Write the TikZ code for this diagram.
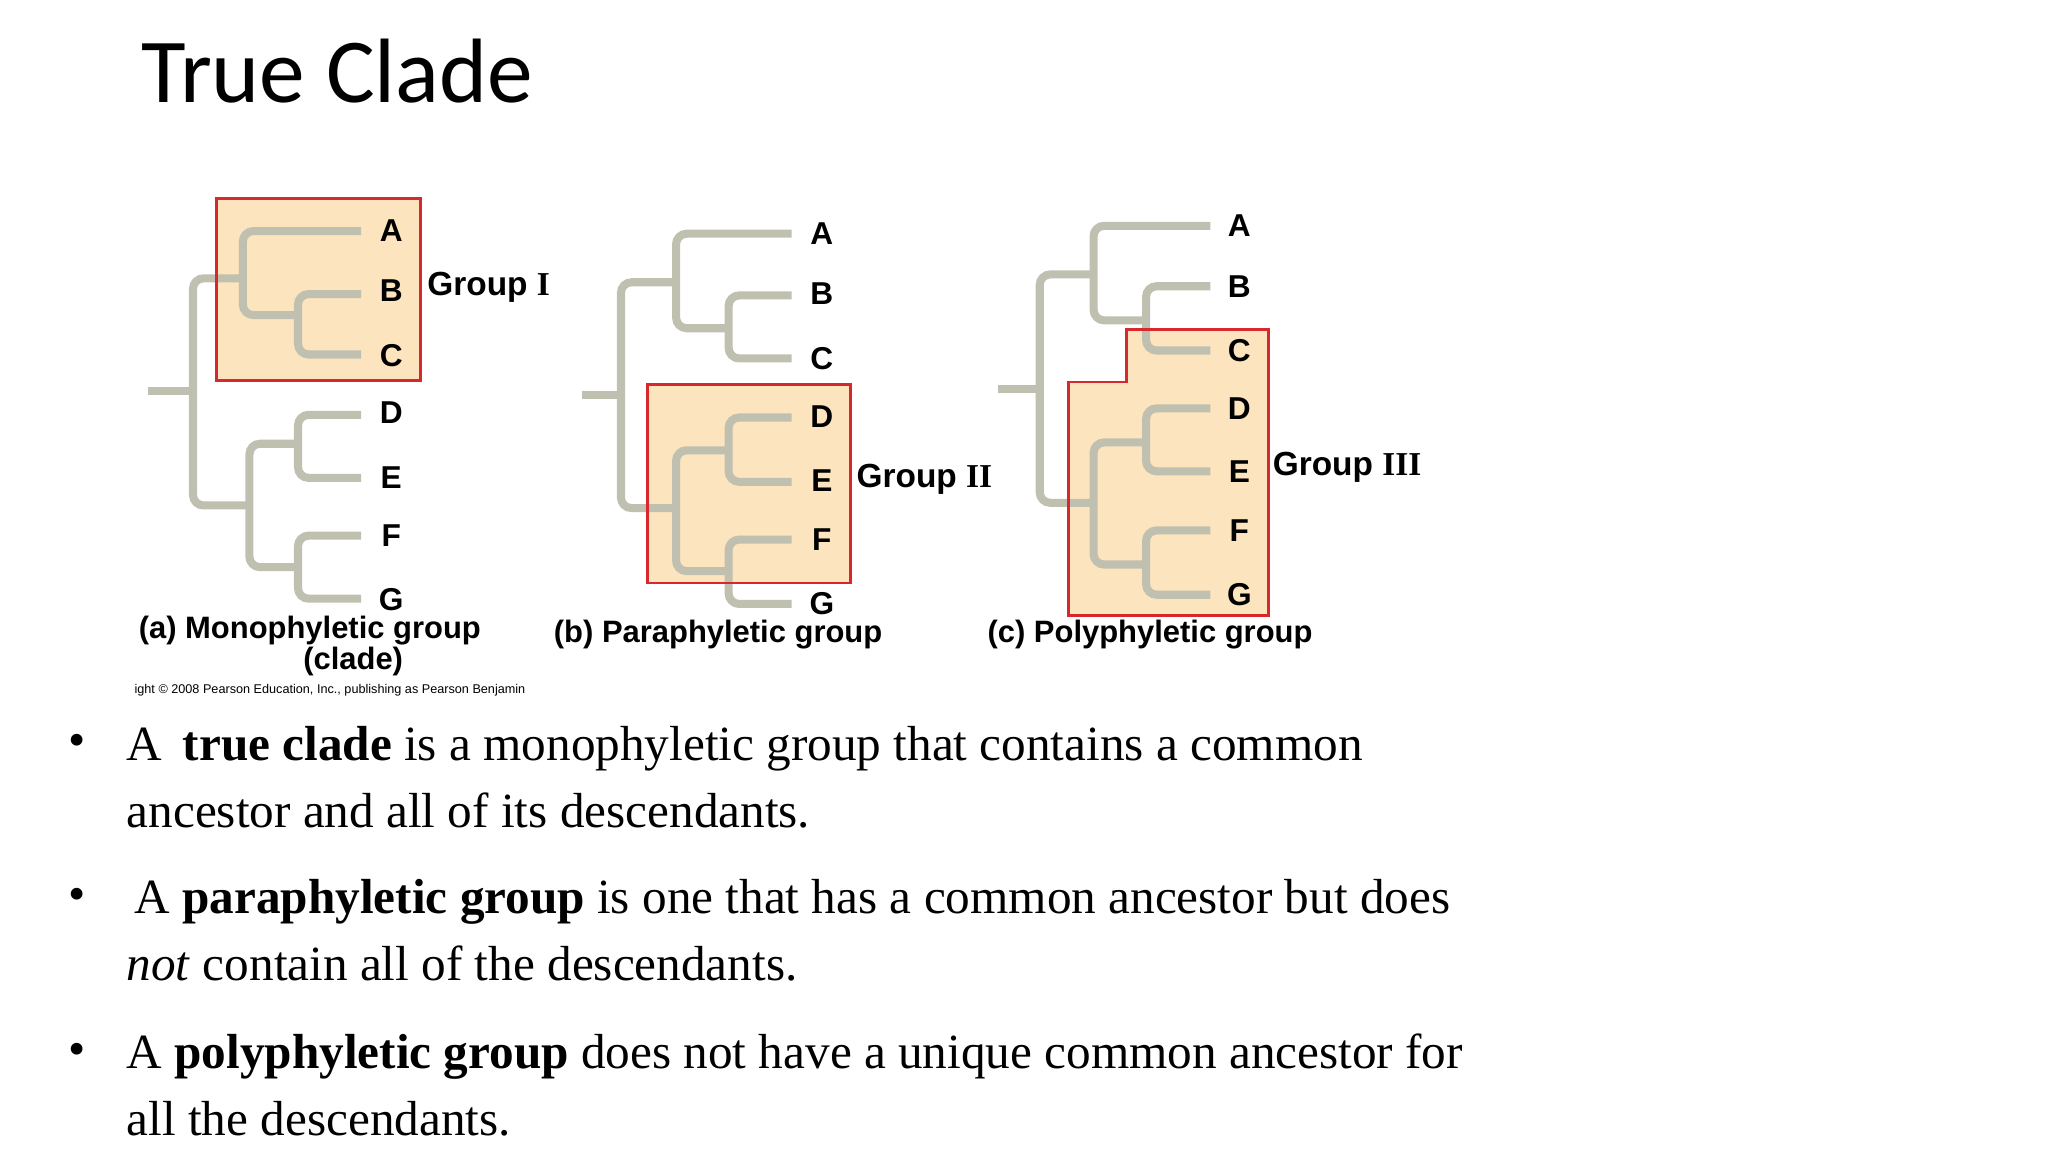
\documentclass[tikz,border=0pt]{standalone}
\usepackage{fontspec}
\setmainfont{Liberation Serif}
\newfontfamily\lab{Liberation Sans}
\newfontfamily\ttl{Carlito}
\definecolor{br}{RGB}{192,192,176}
\definecolor{boxf}{RGB}{252,228,190}
\definecolor{boxr}{RGB}{215,40,45}
\tikzset{
 brline/.style={draw=br,line width=2.3pt,rounded corners=3pt},
 grp/.style={fill=boxf},
 grpb/.style={draw=boxr,line width=0.8pt},
 tiplab/.style={font=\lab\bfseries\fontsize{9}{10}\selectfont,inner sep=0pt},
 gl/.style={font=\lab\bfseries\fontsize{9.5}{10}\selectfont,anchor=west,inner sep=0pt},
 captxt/.style={font=\lab\bfseries\fontsize{8.8}{10}\selectfont,inner sep=0pt},
 bul/.style={font=\fontsize{14}{17}\selectfont,anchor=west,inner sep=0pt}
}
\begin{document}
\begin{tikzpicture}[x=0.013128cm,y=-0.013128cm]
\useasboundingbox (0,0) rectangle (1560,877.5);
\node[anchor=west,inner sep=0pt,font=\ttl\fontsize{26}{30}\selectfont] (title) at (107,54) {True Clade};
% boxes fill
\fill[grp] (165,151) rectangle (320,290);
\fill[grp] (493,293) rectangle (648,444);
\fill[grp] (814,291) -- (858,291) -- (858,251) -- (966,251) -- (966,469) -- (814,469) -- cycle;
% tree a
\draw[brline] (113,298) -- (147,298);
\draw[brline] (185,212) -| (147,385) -- (190,385);
\draw[brline] (275,176) -| (185,240) -- (227,240);
\draw[brline] (275,224) -| (227,270) -- (275,270);
\draw[brline] (227,338) -| (190,432) -- (227,432);
\draw[brline] (275,316) -| (227,364) -- (275,364);
\draw[brline] (275,408) -| (227,456) -- (275,456);
% tree b
\draw[brline] (443,301) -- (473,301);
\draw[brline] (515,215) -| (473,387) -- (515,387);
\draw[brline] (603,178) -| (515,250) -- (555,250);
\draw[brline] (603,225) -| (555,273) -- (603,273);
\draw[brline] (555,343) -| (515,435) -- (555,435);
\draw[brline] (603,318) -| (555,367) -- (603,367);
\draw[brline] (603,411) -| (555,460) -- (603,460);
% tree c
\draw[brline] (760,296) -- (792,296);
\draw[brline] (833,209) -| (792,383) -- (833,383);
\draw[brline] (922,172) -| (833,244) -- (873,244);
\draw[brline] (922,218) -| (873,267) -- (922,267);
\draw[brline] (873,337) -| (833,430) -- (873,430);
\draw[brline] (922,311) -| (873,359) -- (922,359);
\draw[brline] (922,404) -| (873,453) -- (922,453);
% box borders
\draw[grpb] (165,151) rectangle (320,290);
\draw[grpb] (493,293) rectangle (648,444);
\draw[grpb] (814,291) -- (858,291) -- (858,251) -- (966,251) -- (966,469) -- (814,469) -- cycle;
% labels
\foreach \n/\y in {A/176,B/221,C/271,D/314,E/364,F/408,G/457}{\node[tiplab] (a\n) at (298,\y) {\n};}
\foreach \n/\y in {A/178,B/224,C/273,D/317,E/366,F/411,G/460}{\node[tiplab] (b\n) at (626,\y) {\n};}
\foreach \n/\y in {A/172,B/218,C/267,D/311,E/359,F/404,G/453}{\node[tiplab] (c\n) at (944,\y) {\n};}
\node[gl] (g1) at (325,219) {Group \textrm{\bfseries I}};
\node[gl] (g2) at (652,365) {Group \textrm{\bfseries II}};
\node[gl] (g3) at (969,356) {Group \textrm{\bfseries III}};
\node[captxt] (ca) at (236,480) {(a) Monophyletic group};
\node[captxt] (ca2) at (269,504) {(clade)};
\node[captxt] (cb) at (547,483) {(b) Paraphyletic group};
\node[captxt] (cc) at (876,483) {(c) Polyphyletic group};
\node[anchor=west,inner sep=0pt,font=\lab\fontsize{3.6}{4}\selectfont] (copy) at (102,526) {ight \textcopyright{} 2008 Pearson Education, Inc., publishing as Pearson Benjamin};
% bullets
\foreach \y in {570,687,805}{\node[bul] at (52,\y-2) {\textbullet};}
\node[bul] (t1) at (96,570) {A\, \textbf{true clade} is a monophyletic group that contains a common};
\node[bul] (t1b) at (96,617) {ancestor and all of its descendants.};
\node[bul] (t2) at (102,687) {A \textbf{paraphyletic group} is one that has a common ancestor but does};
\node[bul] (t2b) at (96,734) {\textit{not} contain all of the descendants.};
\node[bul] (t3) at (96,805) {A \textbf{polyphyletic group} does not have a unique common ancestor for};
\node[bul] (t3b) at (96,852) {all the descendants.};
\end{tikzpicture}
\end{document}
